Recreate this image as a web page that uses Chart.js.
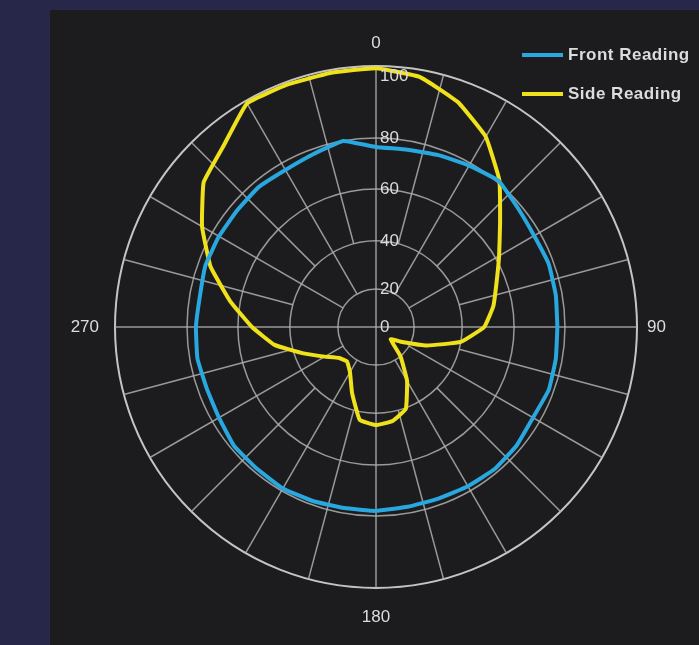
<!DOCTYPE html>
<html>
<head>
<meta charset="utf-8">
<script src="https://cdn.jsdelivr.net/npm/chart.js@4/dist/chart.umd.min.js"></script>
<style>
	html, body { margin: 0; padding: 0; }
	body { background: #27274a; width: 699px; height: 645px; overflow: hidden; position: relative; }
	#panel { position: absolute; left: 50px; top: 10px; width: 649px; height: 635px; background: #1c1b1e; }
	#legend { position: absolute; left: 472px; top: 34px; font-family: 'Liberation Sans', Arial, sans-serif; font-size: 17px; font-weight: bold; letter-spacing: 0.5px; color: #dcdcdc; }
	.legend-item { display: flex; align-items: center; height: 22px; margin-bottom: 17px; }
	.legend-swatch { width: 41px; height: 4px; margin-right: 5px; }
</style>
</head>
<body>
<div id="panel">
	<canvas id="polarChart"></canvas>
	<div id="legend"></div>
</div>
<script>
// ===== DATA =====
const angleLabels = ['0', '10', '20', '30', '40', '50', '60', '70', '80', '90', '100', '110',
	'120', '130', '140', '150', '160', '170', '180', '190', '200', '210', '220', '230',
	'240', '250', '260', '270', '280', '290', '300', '310', '320', '330', '340', '350'];

const frontReading = [76.5, 76.5, 77.6, 79, 80.5, 78.5, 77.5, 78, 77.5, 77, 77.5, 78,
	77, 78, 78.5, 78, 77.5, 77.5, 78, 78, 78.5, 79, 78.5, 78.5,
	77, 76.5, 77, 76.5, 76, 77, 77, 77, 77.5, 77, 78, 80];

const sideReading = [99.4, 98, 94, 88.5, 80.8, 69.4, 61.6, 56.2, 52.7, 48.5, 40, 26.7,
	15.8, 10, 20, 30, 40.4, 43.6, 44.6, 43.1, 33.3, 25.8, 22.9, 24.2,
	28.8, 36.3, 46.5, 54.6, 63.9, 74.9, 83.3, 90, 93.3, 99.2, 99.2, 99.2];

const radialTicks = [0, 20, 40, 60, 80, 100];
const shownAngles = ['0', '90', '180', '270'];

// ===== SCALE SHAPE =====
// the paper's rings are not evenly spaced: share of the outer radius for each tick
const ringFractions = [0, 0.146, 0.33, 0.529, 0.724, 1];
const gridColor = 'rgba(175, 175, 175, 0.85)';
const textColor = '#dcdcdc';
const labelFont = { family: "'Liberation Sans', Arial, sans-serif", size: 17 };

class PolarPaperScale extends Chart.RadialLinearScale {
	static id = 'polarPaper';

	getDistanceFromCenterForValue(value) {
		if (value === null || value === undefined || isNaN(value)) return NaN;
		const v = Math.max(radialTicks[0], Math.min(radialTicks[radialTicks.length - 1], value));
		for (let i = 1; i < radialTicks.length; i++) {
			if (v <= radialTicks[i]) {
				const t = (v - radialTicks[i - 1]) / (radialTicks[i] - radialTicks[i - 1]);
				return this.drawingArea * (ringFractions[i - 1] + t * (ringFractions[i] - ringFractions[i - 1]));
			}
		}
		return this.drawingArea;
	}

	drawGrid() {
		super.drawGrid();
		// spokes: long ones on the axes, shorter ones further out
		const ctx = this.ctx;
		const base = this.getIndexAngle(0) - Math.PI / 2;
		const outer = this.getDistanceFromCenterForValue(this.max);
		ctx.save();
		ctx.strokeStyle = gridColor;
		ctx.lineWidth = 1.5;
		for (let deg = 0; deg < 360; deg += 15) {
			const fromValue = deg % 90 === 0 ? 0 : (deg % 30 === 0 ? 20 : 40);
			const inner = this.getDistanceFromCenterForValue(fromValue);
			const a = base + deg * Math.PI / 180;
			ctx.beginPath();
			ctx.moveTo(this.xCenter + Math.cos(a) * inner, this.yCenter + Math.sin(a) * inner);
			ctx.lineTo(this.xCenter + Math.cos(a) * outer, this.yCenter + Math.sin(a) * outer);
			ctx.stroke();
		}
		ctx.restore();
	}

	drawLabels() {
		const ctx = this.ctx;
		const tickFont = Chart.helpers.toFont(this.options.ticks.font);
		ctx.save();
		ctx.font = tickFont.string;
		ctx.fillStyle = textColor;
		ctx.textAlign = 'left';
		ctx.textBaseline = 'middle';
		this.ticks.forEach(tick => {
			const d = Math.min(this.getDistanceFromCenterForValue(tick.value), this.drawingArea - 10);
			ctx.fillText(tick.label, this.xCenter + 4, this.yCenter - d);
		});

		// angle labels
		const plFont = Chart.helpers.toFont(this.options.pointLabels.font);
		ctx.font = plFont.string;
		ctx.textAlign = 'center';
		this._pointLabels.forEach((label, i) => {
			if (!label) return;
			const opts = this.options.pointLabels.setContext(this.getPointLabelContext(i));
			const p = this.getPointPosition(i, this.drawingArea + opts.padding);
			const a = this.getIndexAngle(i) - Math.PI / 2;
			const w = ctx.measureText(label).width;
			ctx.fillText(label, p.x + Math.cos(a) * w / 2, p.y + Math.sin(a) * 7);
		});
		ctx.restore();
	}
}
Chart.register(PolarPaperScale);

// ===== CHART =====
const datasets = [
	{ label: 'Front Reading', data: frontReading, borderColor: '#29a7df' },
	{ label: 'Side Reading', data: sideReading, borderColor: '#efe21a' }
];

const ctx = document.getElementById('polarChart').getContext('2d');

new Chart(ctx, {
	type: 'radar',
	data: {
		labels: angleLabels,
		datasets: datasets.map(ds => ({
			label: ds.label,
			data: ds.data,
			borderColor: ds.borderColor,
			backgroundColor: ds.borderColor,
			borderWidth: 4,
			borderJoinStyle: 'round',
			fill: false,
			pointRadius: 0,
			tension: 0.1
		}))
	},
	options: {
		responsive: true,
		maintainAspectRatio: false,
		animation: false,
		events: [],
		layout: {
			// ticks reserve 10px each side on top of this
			padding: { left: 6, right: 2, top: 46, bottom: 46 }
		},
		plugins: {
			legend: { display: false },
			tooltip: { enabled: false }
		},
		scales: {
			r: {
				type: 'polarPaper',
				min: 0,
				max: 100,
				ticks: {
					stepSize: 20,
					z: 1,
					showLabelBackdrop: false,
					backdropPadding: 1.5,
					color: textColor,
					font: { family: labelFont.family, size: 17 }
				},
				grid: {
					circular: true,
					color: ctx => ctx.index === radialTicks.length - 1 ? 'rgba(205, 205, 205, 0.95)' : gridColor,
					lineWidth: ctx => ctx.index === radialTicks.length - 1 ? 2 : 1.5
				},
				angleLines: { display: false },
				pointLabels: {
					display: false,
					color: textColor,
					font: labelFont,
					padding: ctx => ctx.label === '180' ? 22 : (ctx.label === '90' ? 10 : 16),
					callback: label => shownAngles.includes(label) ? label : ''
				}
			}
		}
	}
});

// ===== LEGEND =====
const legendBox = document.getElementById('legend');
datasets.forEach(ds => {
	const item = document.createElement('div');
	item.className = 'legend-item';
	item.innerHTML = `<span class="legend-swatch" style="background:${ds.borderColor}"></span>${ds.label}`;
	legendBox.appendChild(item);
});
</script>
</body>
</html>
